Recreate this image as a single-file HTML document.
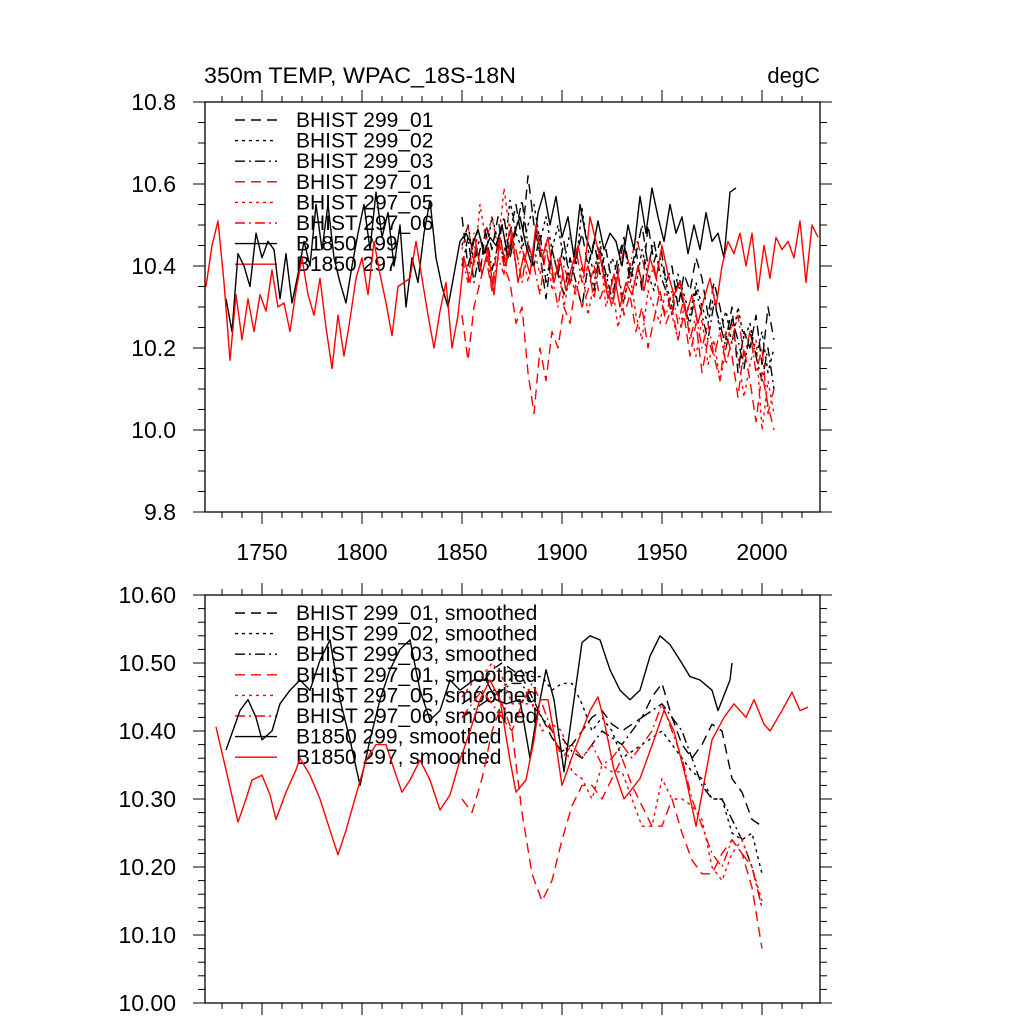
<!DOCTYPE html>
<html><head><meta charset="utf-8"><style>
html,body{margin:0;padding:0;background:#fff;}
svg{display:block;font-family:"Liberation Sans",sans-serif;}
</style></head><body>
<svg id="chart" width="1024" height="1024" viewBox="0 0 1024 1024" xmlns="http://www.w3.org/2000/svg">
<rect width="1024" height="1024" fill="#fff"/>
<text x="204" y="83" font-size="22" textLength="312" lengthAdjust="spacingAndGlyphs">350m TEMP, WPAC_18S-18N</text>
<text x="820" y="83" font-size="22" text-anchor="end">degC</text>
<g id="top"></g><g id="bot"></g>
</svg>
<script>
// ---- data ----
const topTicksY = ["9.8","10.0","10.2","10.4","10.6","10.8"];
const botTicksY = ["10.00","10.10","10.20","10.30","10.40","10.50","10.60"];
const xTickLabels = ["1750","1800","1850","1900","1950","2000"];
const topLegend = ["BHIST 299_01","BHIST 299_02","BHIST 299_03","BHIST 297_01","BHIST 297_05","BHIST 297_06","B1850 299","B1850 297"];
const botLegend = ["BHIST 299_01, smoothed","BHIST 299_02, smoothed","BHIST 299_03, smoothed","BHIST 297_01, smoothed","BHIST 297_05, smoothed","BHIST 297_06, smoothed","B1850 299, smoothed","B1850 297, smoothed"];

// top panel raw (3-year steps)
const b297Start = 1722;
const b297 = [10.35,10.45,10.51,10.36,10.17,10.33,10.22,10.32,10.24,10.33,10.29,10.39,10.30,10.31,10.24,10.34,10.42,10.33,10.28,10.37,10.25,10.15,10.28,10.18,10.27,10.37,10.42,10.33,10.46,10.38,10.31,10.23,10.35,10.36,10.37,10.46,10.37,10.28,10.20,10.29,10.36,10.20,10.28,10.42,10.36,10.45,10.38,10.44,10.33,10.47,10.40,10.48,10.36,10.43,10.38,10.50,10.42,10.47,10.36,10.42,10.34,10.40,10.45,10.38,10.52,10.46,10.40,10.32,10.38,10.30,10.36,10.33,10.40,10.34,10.42,10.37,10.45,10.38,10.33,10.36,10.28,10.33,10.26,10.32,10.37,10.30,10.40,10.46,10.43,10.48,10.40,10.48,10.34,10.45,10.37,10.47,10.44,10.46,10.42,10.51,10.36,10.50,10.47];
const b299Start = 1732;
const b299 = [10.32,10.24,10.43,10.40,10.35,10.48,10.42,10.46,10.44,10.32,10.43,10.31,10.38,10.46,10.40,10.55,10.44,10.55,10.42,10.36,10.31,10.40,10.48,10.55,10.44,10.58,10.47,10.53,10.40,10.50,10.30,10.42,10.36,10.48,10.56,10.42,10.35,10.30,10.38,10.46,10.48,10.45,10.49,10.43,10.47,10.45,10.50,10.42,10.48,10.52,10.45,10.40,10.53,10.58,10.50,10.57,10.47,10.52,10.42,10.55,10.47,10.43,10.51,10.44,10.48,10.46,10.40,10.50,10.44,10.57,10.48,10.59,10.52,10.46,10.55,10.48,10.52,10.43,10.50,10.44,10.53,10.46,10.48,10.42,10.58,10.59];
const histStart = 1850;
const h299_01 = [10.52,10.40,10.46,10.38,10.50,10.44,10.52,10.41,10.48,10.55,10.46,10.62,10.50,10.43,10.32,10.44,10.38,10.46,10.36,10.42,10.48,10.40,10.46,10.38,10.44,10.36,10.42,10.47,10.38,10.44,10.34,10.50,10.41,10.46,10.36,10.40,10.30,10.38,10.34,10.42,10.37,10.28,10.36,10.30,10.22,10.30,10.14,10.24,10.20,10.28,10.16,10.30,10.22];
const h299_02 = [10.45,10.50,10.41,10.47,10.43,10.52,10.46,10.42,10.56,10.48,10.44,10.50,10.55,10.46,10.52,10.44,10.50,10.41,10.48,10.40,10.54,10.44,10.38,10.46,10.36,10.42,10.38,10.31,10.40,10.35,10.44,10.38,10.34,10.42,10.36,10.30,10.38,10.33,10.28,10.36,10.30,10.26,10.33,10.24,10.29,10.21,10.30,10.22,10.26,10.18,10.24,10.14,10.20];
const h299_03 = [10.40,10.47,10.36,10.44,10.48,10.39,10.45,10.52,10.42,10.49,10.56,10.45,10.40,10.48,10.36,10.44,10.38,10.33,10.42,10.36,10.30,10.40,10.34,10.44,10.38,10.32,10.40,10.46,10.36,10.43,10.50,10.40,10.46,10.38,10.34,10.28,10.36,10.30,10.26,10.34,10.28,10.22,10.31,10.26,10.20,10.27,10.22,10.15,10.24,10.18,10.12,10.20,10.10];
const h297_01 = [10.28,10.17,10.30,10.36,10.42,10.34,10.47,10.40,10.36,10.26,10.30,10.14,10.04,10.20,10.12,10.24,10.20,10.30,10.26,10.36,10.30,10.34,10.40,10.32,10.36,10.30,10.38,10.28,10.33,10.24,10.30,10.20,10.27,10.34,10.26,10.30,10.22,10.28,10.18,10.26,10.14,10.22,10.18,10.12,10.24,10.18,10.08,10.20,10.12,10.02,10.14,10.06,10.00];
const h297_05 = [10.44,10.50,10.40,10.55,10.46,10.52,10.44,10.59,10.48,10.40,10.45,10.36,10.44,10.38,10.46,10.34,10.42,10.30,10.38,10.33,10.40,10.28,10.36,10.44,10.30,10.36,10.25,10.32,10.38,10.28,10.22,10.34,10.30,10.26,10.35,10.28,10.22,10.30,10.24,10.18,10.27,10.16,10.22,10.12,10.20,10.26,10.18,10.08,10.16,10.22,10.00,10.12,10.04];
const h297_06 = [10.42,10.36,10.48,10.40,10.45,10.34,10.42,10.38,10.50,10.44,10.36,10.46,10.40,10.33,10.44,10.38,10.30,10.40,10.35,10.44,10.36,10.40,10.32,10.42,10.36,10.30,10.38,10.44,10.40,10.47,10.42,10.36,10.40,10.32,10.28,10.34,10.26,10.32,10.22,10.28,10.20,10.26,10.18,10.24,10.16,10.22,10.28,10.18,10.24,10.14,10.20,10.04,10.10];

// bottom panel smoothed
const s297Years = [1727,1732,1738,1742,1745,1750,1754,1757,1762,1767,1769,1774,1779,1784,1788,1792,1797,1802,1807,1812,1817,1820,1824,1829,1834,1839,1844,1849,1854,1859,1864,1869,1874,1877,1882,1886,1889,1893,1897,1900,1906,1914,1918,1921,1926,1931,1939,1946,1951,1956,1962,1967,1975,1981,1986,1992,1996,2001,2004,2010,2015,2019,2023];
const s297 = [10.406,10.343,10.266,10.30,10.328,10.335,10.306,10.27,10.31,10.343,10.36,10.335,10.30,10.254,10.218,10.254,10.306,10.357,10.38,10.38,10.335,10.31,10.328,10.357,10.328,10.284,10.306,10.357,10.40,10.446,10.475,10.446,10.357,10.31,10.328,10.387,10.446,10.446,10.38,10.32,10.37,10.43,10.45,10.416,10.343,10.30,10.33,10.387,10.43,10.40,10.33,10.26,10.387,10.42,10.44,10.42,10.446,10.41,10.40,10.43,10.457,10.43,10.435];
const s299Years = [1732,1739,1743,1747,1750,1755,1759,1764,1769,1774,1779,1784,1789,1794,1799,1804,1809,1814,1819,1824,1829,1834,1839,1844,1849,1856,1862,1867,1872,1879,1884,1887,1892,1896,1901,1906,1910,1914,1919,1924,1929,1934,1939,1944,1949,1954,1959,1964,1969,1975,1978,1984,1985];
const s299 = [10.372,10.43,10.446,10.42,10.387,10.40,10.44,10.46,10.475,10.46,10.504,10.534,10.446,10.387,10.32,10.387,10.446,10.49,10.52,10.534,10.46,10.416,10.43,10.475,10.46,10.475,10.475,10.446,10.44,10.446,10.36,10.416,10.49,10.446,10.34,10.446,10.53,10.54,10.534,10.49,10.46,10.446,10.46,10.51,10.54,10.527,10.504,10.48,10.475,10.46,10.43,10.475,10.50];
const sHistYears = [1850,1855,1860,1865,1870,1875,1880,1885,1890,1895,1900,1905,1910,1915,1920,1925,1930,1935,1940,1945,1950,1955,1960,1965,1970,1975,1980,1985,1990,1995,2000];
const s299_01 = [10.44,10.45,10.47,10.49,10.50,10.49,10.48,10.45,10.42,10.39,10.37,10.38,10.40,10.42,10.43,10.41,10.40,10.41,10.42,10.45,10.47,10.42,10.38,10.36,10.38,10.41,10.40,10.33,10.31,10.27,10.26];
const s299_02 = [10.44,10.45,10.45,10.46,10.46,10.48,10.49,10.48,10.48,10.46,10.47,10.47,10.44,10.40,10.42,10.40,10.36,10.37,10.38,10.39,10.40,10.38,10.36,10.34,10.33,10.30,10.30,10.25,10.24,10.25,10.19];
const s299_03 = [10.42,10.43,10.44,10.45,10.46,10.47,10.47,10.44,10.42,10.40,10.39,10.37,10.36,10.38,10.40,10.39,10.38,10.40,10.42,10.43,10.44,10.42,10.40,10.36,10.32,10.30,10.30,10.27,10.24,10.20,10.14];
const s297_01 = [10.30,10.28,10.33,10.40,10.44,10.40,10.28,10.19,10.15,10.18,10.24,10.29,10.32,10.32,10.30,10.33,10.36,10.32,10.29,10.26,10.26,10.30,10.25,10.21,10.19,10.19,10.22,10.24,10.22,10.17,10.08];
const s297_05 = [10.45,10.47,10.48,10.50,10.48,10.44,10.44,10.44,10.40,10.41,10.40,10.34,10.33,10.30,10.35,10.34,10.34,10.30,10.26,10.26,10.33,10.30,10.30,10.29,10.27,10.20,10.18,10.22,10.24,10.20,10.15];
const s297_06 = [10.42,10.44,10.46,10.44,10.42,10.40,10.44,10.47,10.44,10.40,10.36,10.38,10.36,10.38,10.35,10.36,10.38,10.36,10.38,10.40,10.44,10.40,10.36,10.30,10.26,10.22,10.20,10.24,10.22,10.20,10.14];

// ---- drawing ----
const NS = "http://www.w3.org/2000/svg";
const X0 = 205, X1 = 820, YR0 = 1721.5, YR1 = 2029;
function xs(yr){ return X0 + (yr - YR0) / (YR1 - YR0) * (X1 - X0); }
function mk(tag, attrs, parent){ const e = document.createElementNS(NS, tag); for (const k in attrs) e.setAttribute(k, attrs[k]); parent.appendChild(e); return e; }
const dashes = {dash:"10,6", dot:"3,4", dashdot:"10,4,2,4", solid:"none"};
const styles = [["#000","dash"],["#000","dot"],["#000","dashdot"],["#f00","dash"],["#f00","dot"],["#f00","dashdot"],["#000","solid"],["#f00","solid"]];

function panel(g, top, bot, vmin, vmax, yLabels, yMinorStep, showX, legend, series, name){
  const ys = v => bot - (v - vmin) / (vmax - vmin) * (bot - top);
  legend.forEach((lab, i) => {
    const ly = top + 18 + i * 20.6;
    const ln = mk("line", {x1:235, x2:277, y1:ly, y2:ly, stroke:styles[i][0], "stroke-width":1.4, "stroke-dasharray":dashes[styles[i][1]]}, g);
    
    
    const t = mk("text", {x:296, y:ly + 7, "font-size":21}, g);
    t.textContent = lab;
    
    
  });
  series.forEach((s, i) => {
    const pts = s.vals.map((v, j) => xs(s.years ? s.years[j] : s.start + j * 3).toFixed(1) + "," + ys(v).toFixed(1)).join(" ");
    const p = mk("polyline", {points:pts, fill:"none", stroke:styles[i][0], "stroke-width":1.4, "stroke-linejoin":"round", "stroke-dasharray":dashes[styles[i][1]]}, g);
    
    
  });
  const box = mk("rect", {x:X0, y:top, width:X1 - X0, height:bot - top, fill:"none", stroke:"#000", "stroke-width":1.3}, g);
  
  
  const step = (vmax - vmin) / (yLabels.length - 1);
  for (let v = vmin; v <= vmax + 1e-9; v += yMinorStep){
    const y = ys(v);
    const major = Math.abs((v - vmin) / step - Math.round((v - vmin) / step)) < 1e-6;
    const L = major ? 12 : 7;
    mk("line", {x1:X0 - L, x2:X0, y1:y, y2:y, stroke:"#000", "stroke-width":1}, g);
    mk("line", {x1:X1, x2:X1 + L, y1:y, y2:y, stroke:"#000", "stroke-width":1}, g);
  }
  yLabels.forEach((lab, i) => {
    const t = mk("text", {x:176, y:ys(vmin + i * step) + 8, "font-size":23, "text-anchor":"end"}, g);
    t.textContent = lab;
    
    
  });
  for (let yr = 1730; yr <= 2020; yr += 10){
    const x = xs(yr), major = yr % 50 === 0, L = major ? 12 : 6;
    mk("line", {x1:x, x2:x, y1:top - L, y2:top, stroke:"#000", "stroke-width":1}, g);
    mk("line", {x1:x, x2:x, y1:bot, y2:bot + L, stroke:"#000", "stroke-width":1}, g);
  }
  if (showX) xTickLabels.forEach(lab => {
    const t = mk("text", {x:xs(+lab), y:bot + 48, "font-size":23, "text-anchor":"middle"}, g);
    t.textContent = lab;
    
    
  });
}

panel(document.getElementById("top"), 102, 512, 9.8, 10.8, topTicksY, 0.05, true, topLegend, [
  {start:histStart, vals:h299_01},{start:histStart, vals:h299_02},{start:histStart, vals:h299_03},
  {start:histStart, vals:h297_01},{start:histStart, vals:h297_05},{start:histStart, vals:h297_06},
  {start:b299Start, vals:b299},{start:b297Start, vals:b297}], "top-panel");
panel(document.getElementById("bot"), 595, 1003, 10.0, 10.6, botTicksY, 0.02, false, botLegend, [
  {years:sHistYears, vals:s299_01},{years:sHistYears, vals:s299_02},{years:sHistYears, vals:s299_03},
  {years:sHistYears, vals:s297_01},{years:sHistYears, vals:s297_05},{years:sHistYears, vals:s297_06},
  {years:s299Years, vals:s299},{years:s297Years, vals:s297}], "bottom-panel");
</script>
</body></html>
